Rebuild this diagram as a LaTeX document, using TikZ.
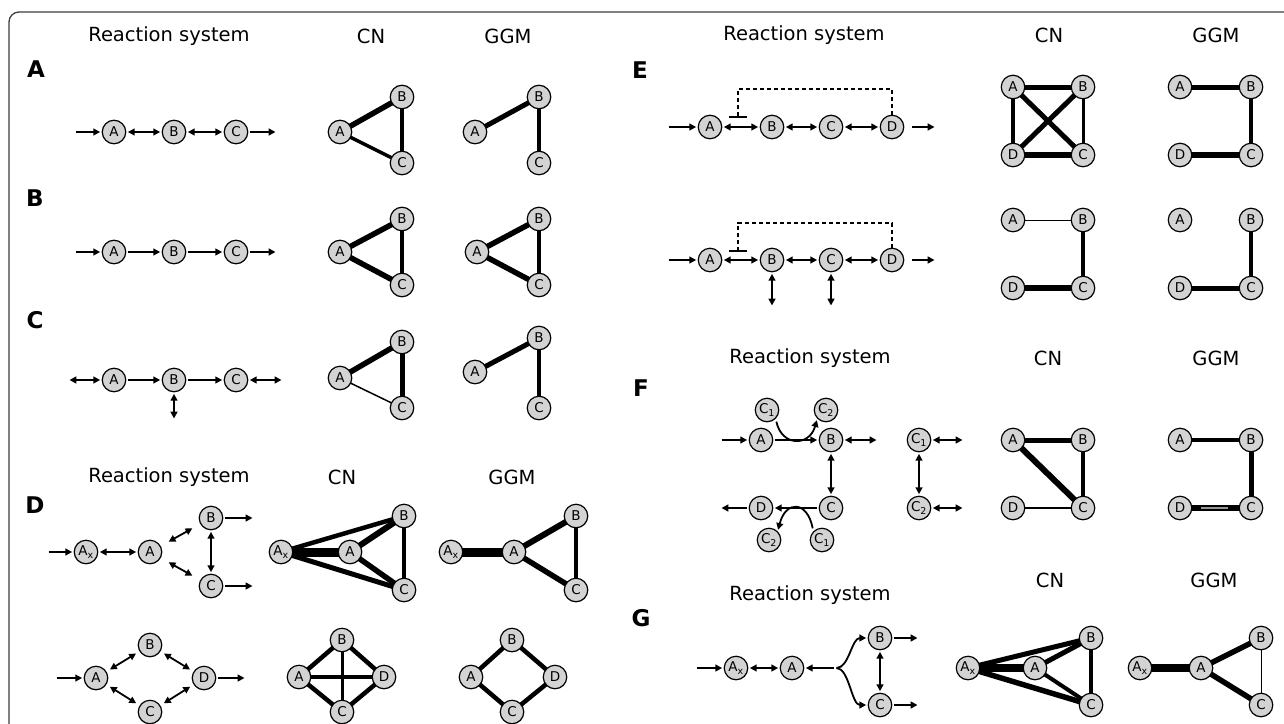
\documentclass[tikz,border=0pt]{standalone}
\usepackage{fontspec}
\setmainfont{DejaVu Sans}
\usetikzlibrary{arrows.meta,backgrounds,calc}
\definecolor{nodegray}{RGB}{211,211,211}
\definecolor{framegray}{RGB}{60,60,60}
\definecolor{stripegray}{RGB}{150,150,150}
\tikzset{
  sp/.style={circle,draw=black,line width=1.2pt,fill=nodegray,minimum size=23.5pt,inner sep=0pt,font=\fontsize{13.5}{14}\selectfont},
  hdr/.style={font=\fontsize{19.5}{22}\selectfont,inner sep=0pt},
  plab/.style={font=\fontsize{23}{24}\selectfont\bfseries,inner sep=0pt},
  rx/.style={line width=1.8pt,-{Triangle[length=6.8pt,width=6.8pt]},shorten >=1.5pt,shorten <=1.5pt},
  rxx/.style={line width=1.8pt,{Triangle[length=6.8pt,width=6.8pt]}-{Triangle[length=6.8pt,width=6.8pt]},shorten >=1.5pt,shorten <=1.5pt},
  ed/.style={line width=#1},
  dsh/.style={line width=1.5pt,dash pattern=on 4pt off 3pt},
  inhbar/.style={line width=2pt}
}
\begin{document}
\begin{tikzpicture}[x=1pt,y=-1pt]
\useasboundingbox (0,0) rectangle (1284,723);
\draw[line width=1.3pt,draw=framegray,rounded corners=10pt] (9,760) |- (1310,12);

% headers
\node[hdr] (hA1) at (169,36) {Reaction system};
\node[hdr] (hA2) at (371,36) {CN};
\node[hdr] (hA3) at (508,36) {GGM};
\node[hdr] (hD1) at (169,477) {Reaction system};
\node[hdr] (hD2) at (342,477) {CN};
\node[hdr] (hD3) at (512,477) {GGM};
\node[hdr] (hE1) at (804,35) {Reaction system};
\node[hdr] (hE2) at (1049,35) {CN};
\node[hdr] (hE3) at (1216,35) {GGM};
\node[hdr] (hF1) at (810,358) {Reaction system};
\node[hdr] (hF2) at (1048,358) {CN};
\node[hdr] (hF3) at (1216,358) {GGM};
\node[hdr] (hG1) at (810,595) {Reaction system};
\node[hdr] (hG2) at (1050,580) {CN};
\node[hdr] (hG3) at (1214,580) {GGM};

% panel labels
\node[plab] (lA) at (36,69) {A};
\node[plab] (lB) at (35,198) {B};
\node[plab] (lC) at (35,320) {C};
\node[plab] (lD) at (35,505) {D};
\node[plab] (lE) at (640,70) {E};
\node[plab] (lF) at (641,388) {F};
\node[plab] (lG) at (641,618) {G};

% ===== Panel A =====
\node[sp] (rA1) at (114,132) {A};
\node[sp] (rA2) at (174,132) {B};
\node[sp] (rA3) at (236,132) {C};
\coordinate (rA0) at (74,132);
\coordinate (rA4) at (277,132);
\draw[rx] (rA0) -- (rA1);
\draw[rxx] (rA1) -- (rA2);
\draw[rxx] (rA2) -- (rA3);
\draw[rx] (rA3) -- (rA4);
\node[sp] (nA1) at (340,132) {A};
\node[sp] (nA2) at (402,97) {B};
\node[sp] (nA3) at (402,163) {C};
\node[sp] (mA1) at (475,132) {A};
\node[sp] (mA2) at (539,97) {B};
\node[sp] (mA3) at (539,163) {C};
\begin{scope}[on background layer]
\draw[ed=5.5pt] (nA1.center) -- (nA2.center);
\draw[ed=3.5pt] (nA1.center) -- (nA3.center);
\draw[ed=4.5pt] (nA2.center) -- (nA3.center);
\draw[ed=5pt] (mA1.center) -- (mA2.center);
\draw[ed=3.5pt] (mA2.center) -- (mA3.center);
\end{scope}

% ===== Panel B =====
\node[sp] (rB1) at (114,252) {A};
\node[sp] (rB2) at (174,252) {B};
\node[sp] (rB3) at (236,252) {C};
\coordinate (rB0) at (74,252);
\coordinate (rB4) at (277,252);
\draw[rx] (rB0) -- (rB1);
\draw[rx] (rB1) -- (rB2);
\draw[rx] (rB2) -- (rB3);
\draw[rx] (rB3) -- (rB4);
\node[sp] (nB1) at (340,252) {A};
\node[sp] (nB2) at (402,219) {B};
\node[sp] (nB3) at (402,285) {C};
\node[sp] (mB1) at (477,252) {A};
\node[sp] (mB2) at (539,219) {B};
\node[sp] (mB3) at (539,285) {C};
\begin{scope}[on background layer]
\draw[ed=5.5pt] (nB1.center) -- (nB2.center);
\draw[ed=5.5pt] (nB1.center) -- (nB3.center);
\draw[ed=3.5pt] (nB2.center) -- (nB3.center);
\draw[ed=5.5pt] (mB1.center) -- (mB2.center);
\draw[ed=5.5pt] (mB1.center) -- (mB3.center);
\draw[ed=4.5pt] (mB2.center) -- (mB3.center);
\end{scope}

% ===== Panel C =====
\node[sp] (rC1) at (114,380) {A};
\node[sp] (rC2) at (174,380) {B};
\node[sp] (rC3) at (236,380) {C};
\coordinate (rC0) at (68,380);
\coordinate (rC4) at (283,380);
\coordinate (rC5) at (174,420);
\draw[rxx] (rC0) -- (rC1);
\draw[rx] (rC1) -- (rC2);
\draw[rx] (rC2) -- (rC3);
\draw[rxx] (rC3) -- (rC4);
\draw[rxx] (rC2) -- (rC5);
\node[sp] (nC1) at (340,378) {A};
\node[sp] (nC2) at (402,342) {B};
\node[sp] (nC3) at (402,408) {C};
\node[sp] (mC1) at (475,372) {A};
\node[sp] (mC2) at (539,338) {B};
\node[sp] (mC3) at (539,408) {C};
\begin{scope}[on background layer]
\draw[ed=5.5pt] (nC1.center) -- (nC2.center);
\draw[ed=1.5pt] (nC1.center) -- (nC3.center);
\draw[ed=5pt] (nC2.center) -- (nC3.center);
\draw[ed=5pt] (mC1.center) -- (mC2.center);
\draw[ed=4.5pt] (mC2.center) -- (mC3.center);
\end{scope}

% ===== Panel D top =====
\node[sp] (rDx) at (86,552) {A\textsubscript{x}};
\node[sp] (rDa) at (150,552) {A};
\node[sp] (rDb) at (211,518) {B};
\node[sp] (rDc) at (211,586) {C};
\coordinate (rD0) at (47,552);
\coordinate (rDbo) at (254,518);
\coordinate (rDco) at (254,586);
\draw[rx] (rD0) -- (rDx);
\draw[rxx] (rDx) -- (rDa);
\draw[rxx,shorten <=9pt,shorten >=9pt] (rDa) -- (rDb);
\draw[rxx,shorten <=9pt,shorten >=9pt] (rDa) -- (rDc);
\draw[rxx] (rDb) -- (rDc);
\draw[rx] (rDb) -- (rDbo);
\draw[rx] (rDc) -- (rDco);
\node[sp] (nDx) at (281,552) {A\textsubscript{x}};
\node[sp] (nDa) at (350,552) {A};
\node[sp] (nDb) at (404,516) {B};
\node[sp] (nDc) at (404,590) {C};
\node[sp] (mDx) at (451,552) {A\textsubscript{x}};
\node[sp] (mDa) at (514,552) {A};
\node[sp] (mDb) at (576,516) {B};
\node[sp] (mDc) at (576,590) {C};
\begin{scope}[on background layer]
\draw[ed=9pt] (nDx.center) -- (nDa.center);
\draw[ed=4.5pt] (nDx.center) -- (nDb.center);
\draw[ed=5pt] (nDx.center) -- (nDc.center);
\draw[ed=6pt] (nDa.center) -- (nDb.center);
\draw[ed=5.5pt] (nDa.center) -- (nDc.center);
\draw[ed=3.5pt] (nDb.center) -- (nDc.center);
\draw[ed=9pt] (mDx.center) -- (mDa.center);
\draw[ed=6pt] (mDa.center) -- (mDb.center);
\draw[ed=5.5pt] (mDa.center) -- (mDc.center);
\draw[ed=3.5pt] (mDb.center) -- (mDc.center);
\end{scope}

% ===== Panel D bottom =====
\node[sp] (rEa) at (96,678) {A};
\node[sp] (rEb) at (150,645) {B};
\node[sp] (rEc) at (150,712) {C};
\node[sp] (rEd) at (204,678) {D};
\coordinate (rE0) at (55,678);
\coordinate (rE5) at (246,678);
\draw[rx] (rE0) -- (rEa);
\draw[rx] (rEd) -- (rE5);
\draw[rxx,shorten <=4pt,shorten >=4pt] (rEa) -- (rEb);
\draw[rxx,shorten <=4pt,shorten >=4pt] (rEb) -- (rEd);
\draw[rxx,shorten <=4pt,shorten >=4pt] (rEa) -- (rEc);
\draw[rxx,shorten <=4pt,shorten >=4pt] (rEc) -- (rEd);
\node[sp] (nEb) at (342,640) {B};
\node[sp] (nEa) at (299,677) {A};
\node[sp] (nEd) at (384,677) {D};
\node[sp] (nEc) at (342,712) {C};
\node[sp] (mEb) at (512,640) {B};
\node[sp] (mEa) at (471,677) {A};
\node[sp] (mEd) at (555,677) {D};
\node[sp] (mEc) at (512,712) {C};
\begin{scope}[on background layer]
\draw[ed=4.5pt] (nEa.center) -- (nEb.center);
\draw[ed=4.5pt] (nEb.center) -- (nEd.center);
\draw[ed=4.5pt] (nEa.center) -- (nEc.center);
\draw[ed=4.5pt] (nEc.center) -- (nEd.center);
\draw[ed=3.5pt] (nEa.center) -- (nEd.center);
\draw[ed=3pt] (nEb.center) -- (nEc.center);
\draw[ed=4.5pt] (mEa.center) -- (mEb.center);
\draw[ed=4.5pt] (mEb.center) -- (mEd.center);
\draw[ed=4.5pt] (mEa.center) -- (mEc.center);
\draw[ed=4.5pt] (mEc.center) -- (mEd.center);
\end{scope}

% ===== Panel E row 1 =====
\node[sp] (rFa) at (710,127) {A};
\node[sp] (rFb) at (772,127) {B};
\node[sp] (rFc) at (831,127) {C};
\node[sp] (rFd) at (892,127) {D};
\coordinate (rF0) at (667,127);
\coordinate (rF5) at (936,127);
\coordinate (rFt) at (738,89);
\coordinate (rFi) at (738,117);
\coordinate (rFl) at (729,117);
\coordinate (rFr) at (747,117);
\draw[rx] (rF0) -- (rFa);
\draw[rxx] (rFa) -- (rFb);
\draw[rxx] (rFb) -- (rFc);
\draw[rxx] (rFc) -- (rFd);
\draw[rx,shorten <=8pt] (rFd) -- (rF5);
\draw[dsh] (rFd.north) |- (rFt) -- (rFi);
\draw[inhbar] (rFl) -- (rFr);
\node[sp] (nFa) at (1013,87) {A};
\node[sp] (nFb) at (1083,87) {B};
\node[sp] (nFd) at (1013,155) {D};
\node[sp] (nFc) at (1083,155) {C};
\node[sp] (mFa) at (1180,87) {A};
\node[sp] (mFb) at (1251,87) {B};
\node[sp] (mFd) at (1180,155) {D};
\node[sp] (mFc) at (1251,155) {C};
\begin{scope}[on background layer]
\draw[ed=5pt] (nFa.center) -- (nFb.center);
\draw[ed=5pt] (nFa.center) -- (nFc.center);
\draw[ed=5pt] (nFb.center) -- (nFd.center);
\draw[ed=3.5pt] (nFa.center) -- (nFd.center);
\draw[ed=3pt] (nFb.center) -- (nFc.center);
\draw[ed=6pt] (nFd.center) -- (nFc.center);
\draw[ed=5pt] (mFa.center) -- (mFb.center);
\draw[ed=4pt] (mFb.center) -- (mFc.center);
\draw[ed=5.5pt] (mFd.center) -- (mFc.center);
\end{scope}

% ===== Panel E row 2 =====
\node[sp] (rGa) at (710,260) {A};
\node[sp] (rGb) at (772,260) {B};
\node[sp] (rGc) at (831,260) {C};
\node[sp] (rGd) at (892,260) {D};
\coordinate (rG0) at (667,260);
\coordinate (rG5) at (936,260);
\coordinate (rGt) at (738,223);
\coordinate (rGi) at (738,251);
\coordinate (rGl) at (729,251);
\coordinate (rGr) at (747,251);
\coordinate (rGbv) at (772,307);
\coordinate (rGcv) at (831,307);
\draw[rx] (rG0) -- (rGa);
\draw[rxx] (rGa) -- (rGb);
\draw[rxx] (rGb) -- (rGc);
\draw[rxx] (rGc) -- (rGd);
\draw[rx,shorten <=8pt] (rGd) -- (rG5);
\draw[rxx] (rGb) -- (rGbv);
\draw[rxx] (rGc) -- (rGcv);
\draw[dsh] (rGd.north) |- (rGt) -- (rGi);
\draw[inhbar] (rGl) -- (rGr);
\node[sp] (nGa) at (1013,220) {A};
\node[sp] (nGb) at (1083,220) {B};
\node[sp] (nGd) at (1013,288) {D};
\node[sp] (nGc) at (1083,288) {C};
\node[sp] (mGa) at (1180,220) {A};
\node[sp] (mGb) at (1251,220) {B};
\node[sp] (mGd) at (1180,288) {D};
\node[sp] (mGc) at (1251,288) {C};
\begin{scope}[on background layer]
\draw[ed=1pt] (nGa.center) -- (nGb.center);
\draw[ed=3.5pt] (nGb.center) -- (nGc.center);
\draw[ed=5.5pt] (nGd.center) -- (nGc.center);
\draw[ed=3.5pt] (mGb.center) -- (mGc.center);
\draw[ed=5pt] (mGd.center) -- (mGc.center);
\end{scope}

% ===== Panel F =====
\node[sp] (rHa) at (761,440) {A};
\node[sp] (rHc1) at (767,410) {C\textsubscript{1}};
\node[sp] (rHc2) at (826,410) {C\textsubscript{2}};
\node[sp] (rHb) at (831,440) {B};
\node[sp] (rHc) at (831,508) {C};
\node[sp] (rHd) at (761,508) {D};
\node[sp] (rHe2) at (769,540) {C\textsubscript{2}};
\node[sp] (rHe1) at (822,540) {C\textsubscript{1}};
\node[sp] (rHx1) at (919,440) {C\textsubscript{1}};
\node[sp] (rHx2) at (919,508) {C\textsubscript{2}};
\coordinate (rH0) at (720,440);
\coordinate (rHbo) at (878,440);
\coordinate (rHdo) at (720,508);
\coordinate (rHx1o) at (964,440);
\coordinate (rHx2o) at (964,508);
\draw[rx] (rH0) -- (rHa);
\draw[rx] (rHa) -- (rHb);
\draw[rxx] (rHb) -- (rHbo);
\draw[rxx] (rHb) -- (rHc);
\draw[rx] (rHc) -- (rHd);
\draw[rx] (rHd) -- (rHdo);
\draw[rxx] (rHx1) -- (rHx1o);
\draw[rxx] (rHx2) -- (rHx2o);
\draw[rxx] (rHx1) -- (rHx2);
\draw[rx,shorten <=3pt] (rHc1.south east) .. controls +(6,28) and +(-8,28) .. (rHc2.south west);
\draw[rx,shorten <=3pt] (rHe1.north west) .. controls +(-6,-31) and +(8,-31) .. (rHe2.north east);
\node[sp] (nHa) at (1013,440) {A};
\node[sp] (nHb) at (1083,440) {B};
\node[sp] (nHd) at (1013,508) {D};
\node[sp] (nHc) at (1083,508) {C};
\node[sp] (mHa) at (1180,440) {A};
\node[sp] (mHb) at (1251,440) {B};
\node[sp] (mHd) at (1180,508) {D};
\node[sp] (mHc) at (1251,508) {C};
\begin{scope}[on background layer]
\draw[ed=5pt] (nHa.center) -- (nHb.center);
\draw[ed=6pt] (nHa.center) -- (nHc.center);
\draw[ed=4.5pt] (nHb.center) -- (nHc.center);
\draw[ed=2pt] (nHd.center) -- (nHc.center);
\draw[ed=3.5pt] (mHa.center) -- (mHb.center);
\draw[ed=5pt] (mHb.center) -- (mHc.center);
\draw[ed=6pt] (mHd.center) -- (mHc.center);
\draw[ed=2pt,draw=stripegray] ($(mHd.center)!0.3!(mHc.center)$) -- ($(mHd.center)!0.68!(mHc.center)$);
\end{scope}

% ===== Panel G =====
\node[sp] (rIx) at (736,668) {A\textsubscript{x}};
\node[sp] (rIa) at (792,668) {A};
\node[sp] (rIb) at (880,638) {B};
\node[sp] (rIc) at (880,705) {C};
\coordinate (rI0) at (695,668);
\coordinate (rIj) at (835,668);
\coordinate (rIbo) at (919,638);
\coordinate (rIco) at (919,705);
\draw[rx] (rI0) -- (rIx);
\draw[rxx] (rIx) -- (rIa);
\draw[rx] (rIj) -- (rIa);
\draw[rx] (rIj) .. controls +(14,0) and +(-16,0) .. (rIb.west);
\draw[rx] (rIj) .. controls +(14,0) and +(-16,0) .. (rIc.west);
\draw[rxx] (rIb) -- (rIc);
\draw[rx] (rIb) -- (rIbo);
\draw[rx] (rIc) -- (rIco);
\node[sp] (nIx) at (968,668) {A\textsubscript{x}};
\node[sp] (nIa) at (1035,668) {A};
\node[sp] (nIb) at (1091,638) {B};
\node[sp] (nIc) at (1091,705) {C};
\node[sp] (mIx) at (1140,668) {A\textsubscript{x}};
\node[sp] (mIa) at (1201,668) {A};
\node[sp] (mIb) at (1261,638) {B};
\node[sp] (mIc) at (1261,705) {C};
\begin{scope}[on background layer]
\draw[ed=8pt] (nIx.center) -- (nIa.center);
\draw[ed=5pt] (nIx.center) -- (nIb.center);
\draw[ed=5.5pt] (nIx.center) -- (nIc.center);
\draw[ed=5pt] (nIa.center) -- (nIb.center);
\draw[ed=4pt] (nIa.center) -- (nIc.center);
\draw[ed=3.5pt] (nIb.center) -- (nIc.center);
\draw[ed=8pt] (mIx.center) -- (mIa.center);
\draw[ed=5.5pt] (mIa.center) -- (mIb.center);
\draw[ed=5.5pt] (mIa.center) -- (mIc.center);
\draw[ed=1pt] (mIb.center) -- (mIc.center);
\end{scope}
\end{tikzpicture}
\end{document}
